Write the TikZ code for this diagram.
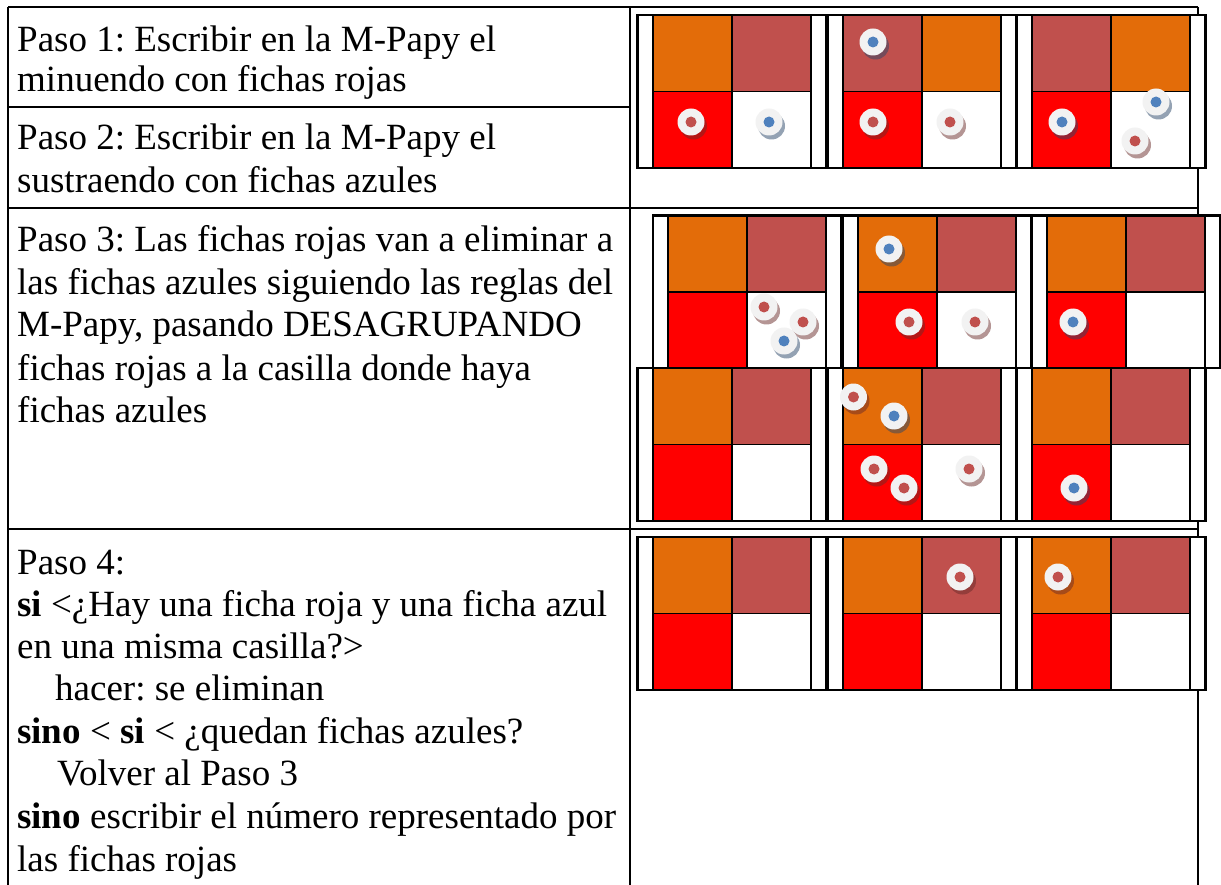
\documentclass[tikz,border=0pt]{standalone}
\usepackage{fontspec}
\setmainfont{Liberation Serif}
\frenchspacing
\definecolor{cOrange}{HTML}{E36C09}
\definecolor{cBrown}{HTML}{C0504D}
\definecolor{cRed}{HTML}{FF0000}
\definecolor{chipRed}{HTML}{C0504D}
\definecolor{chipBlue}{HTML}{4F81BD}
\definecolor{chipWhite}{HTML}{F2F2F2}
\tikzset{
  tline/.style={line width=1.2pt, black},
  boardline/.style={line width=2.4pt, black},
  cellline/.style={line width=1.7pt, black},
  txt/.style={font=\fontsize{37}{42}\selectfont, inner sep=0pt, anchor=base west},
}
% board: x, y, height, top-left colour, top-right colour
\newcommand{\mpboard}[5]{%
  \begin{scope}[shift={(#1,#2)}]
    \fill[white] (0,0) rectangle (188.5,#3);
    \fill[#4] (15.2,0) rectangle (94.2,#3/2);
    \fill[#5] (94.2,0) rectangle (173.2,#3/2);
    \fill[cRed] (15.2,#3/2) rectangle (94.2,#3);
    \draw[cellline] (15.2,0) rectangle (173.2,#3);
    \draw[cellline] (94.2,0) -- (94.2,#3);
    \draw[cellline] (15.2,#3/2) -- (173.2,#3/2);
    \draw[boardline] (0,0) rectangle (188.5,#3);
  \end{scope}}
% chip: x, y, colour
\newcommand{\chip}[3]{%
  \begin{scope}[shift={(#1,#2)}]
    \fill[#3!55!black, opacity=0.5] (2.5,4) circle[radius=13.5pt];
    \fill[chipWhite] (0,0) circle[radius=13.5pt];
    \fill[#3] (0,0) circle[radius=5.5pt];
  \end{scope}}
\begin{document}
\begin{tikzpicture}[x=1pt,y=-1pt]
\useasboundingbox (0,0) rectangle (1221,885);
\fill[white] (0,0) rectangle (1221,885);

% ---- table rules
\draw[tline] (8,7) -- (1198,7);
\draw[tline] (8,7) -- (8,885);
\draw[tline] (630,7) -- (630,885);
\draw[tline] (1198,7) -- (1198,885);
\draw[tline] (8,107) -- (630,107);
\draw[tline] (8,208) -- (1198,208);
\draw[tline] (8,529) -- (1198,529);

% ---- texts
\node[txt] (p1a) at (17,52) {Paso 1: Escribir en la M-Papy el};
\node[txt] (p1b) at (17,92) {minuendo con fichas rojas};
\node[txt] (p2a) at (17,150) {Paso 2: Escribir en la M-Papy el};
\node[txt] (p2b) at (17,193) {sustraendo con fichas azules};

\node[txt] (p3a) at (17,252) {Paso 3: Las fichas rojas van a eliminar a};
\node[txt] (p3b) at (17,295) {las fichas azules siguiendo las reglas del};
\node[txt] (p3c) at (17,337) {M-Papy, pasando DESAGRUPANDO};
\node[txt] (p3d) at (17,380) {fichas rojas a la casilla donde haya};
\node[txt] (p3e) at (17,422) {fichas azules};

\node[txt] (p4a) at (17,574) {Paso 4:};
\node[txt] (p4b) at (17,616) {\textbf{si} <¿Hay una ficha roja y una ficha azul};
\node[txt] (p4c) at (17,658) {en una misma casilla?>};
\node[txt] (p4d) at (55,700) {hacer: se eliminan};
\node[txt] (p4e) at (17,743) {\textbf{sino} < \textbf{si} < ¿quedan fichas azules?};
\node[txt] (p4f) at (57,785) {Volver al Paso 3};
\node[txt] (p4g) at (17,828) {\textbf{sino} escribir el número representado por};
\node[txt] (p4h) at (17,871) {las fichas rojas};

% ---- row 1 boards (Paso 1-2)
\mpboard{637.5}{15}{153}{cOrange}{cBrown}
\mpboard{828}{15}{153}{cBrown}{cOrange}
\mpboard{1017}{15}{153}{cBrown}{cOrange}
\chip{691}{122}{chipRed}
\chip{769}{122}{chipBlue}
\chip{873}{42}{chipBlue}
\chip{873}{122}{chipRed}
\chip{950}{122}{chipRed}
\chip{1062}{122}{chipBlue}
\chip{1156}{102}{chipBlue}
\chip{1135}{141}{chipRed}

% ---- row 3 boards (Paso 3), upper
\mpboard{653}{215.5}{152.5}{cOrange}{cBrown}
\mpboard{843}{215.5}{152.5}{cOrange}{cBrown}
\mpboard{1031.5}{215.5}{152.5}{cOrange}{cBrown}
\chip{764}{307}{chipRed}
\chip{803}{322}{chipRed}
\chip{784}{341}{chipBlue}
\chip{889}{249}{chipBlue}
\chip{909}{322}{chipRed}
\chip{975}{322}{chipRed}
\chip{1073}{322}{chipBlue}

% ---- row 3 boards, lower
\mpboard{637.5}{368}{153}{cOrange}{cBrown}
\mpboard{828}{368}{153}{cOrange}{cBrown}
\mpboard{1017}{368}{153}{cOrange}{cBrown}
\chip{853.5}{397}{chipRed}
\chip{894}{416}{chipBlue}
\chip{874}{469}{chipRed}
\chip{904}{488}{chipRed}
\chip{969}{469}{chipRed}
\chip{1074}{488}{chipBlue}

% ---- row 4 boards (Paso 4)
\mpboard{637.5}{537}{153}{cOrange}{cBrown}
\mpboard{828}{537}{153}{cOrange}{cBrown}
\mpboard{1017}{537}{153}{cOrange}{cBrown}
\chip{960}{577}{chipRed}
\chip{1058}{577}{chipRed}
\end{tikzpicture}
\end{document}
